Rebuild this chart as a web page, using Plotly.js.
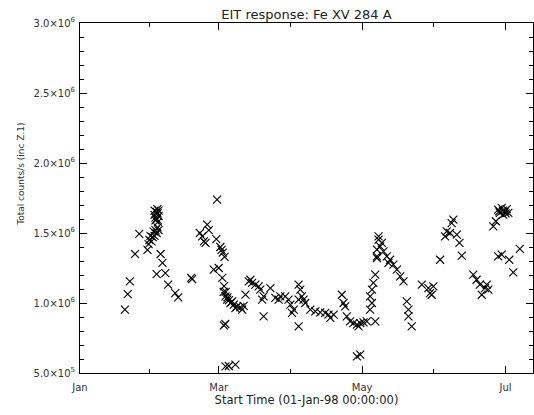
<!DOCTYPE html>
<html>
<head>
<meta charset="utf-8">
<script src="https://cdn.plot.ly/plotly-3.0.1.min.js"></script>
<style>html,body{margin:0;padding:0;background:#fff;}#chart{width:534px;height:415px;}</style>
</head>
<body>
<div id="chart"></div>
<script>
// Day of 1998 (0 = 01-Jan-98 00:00) and total counts/s
const days = [
19.1,20.3,21.2,23.4,25.2,28.7,29.2,29.6,30.0,30.4,30.9,31.3,31.7,32.1,32.6,33.0,33.4,
31.7,31.7,32.1,32.6,32.6,33.0,33.4,33.4,32.1,32.9,33.2,34.3,35.1,32.6,36.3,37.5,40.5,41.8,47.7,47.3,
51.0,52.0,52.7,53.4,54.1,54.8,58.3,58.0,59.7,60.2,60.7,61.5,56.9,59.0,60.5,61.3,62.0,
62.7,63.4,64.0,61.2,61.8,61.9,63.3,66.1,61.1,61.9,62.6,64.7,65.4,66.1,66.8,68.2,69.0,
69.6,70.4,71.8,72.5,73.2,74.6,76.0,76.7,77.5,78.1,81.0,78.1,83.1,84.5,85.2,87.3,88.7,
89.5,90.2,90.9,93.0,93.7,94.4,93.0,95.1,93.0,95.8,98.0,100.1,102.2,104.3,105.7,106.5,
107.9,111.4,112.1,112.8,113.5,114.9,116.3,117.8,118.5,119.2,120.6,122.0,117.8,119.2,
123.4,124.2,123.4,124.2,124.8,125.6,125.6,126.3,126.3,127.0,127.0,127.7,128.4,129.1,
130.5,126.3,131.2,131.9,133.3,134.8,136.2,137.6,139.0,139.7,139.7,141.1,145.4,148.2,
148.9,149.6,150.3,153.2,155.3,156.0,157.4,158.1,158.8,160.3,161.4,162.4,167.3,168.7,
170.1,170.9,172.3,173.0,173.7,175.8,176.9,177.9,178.6,179.4,180.0,180.8,181.5,182.2,
178.3,179.9,181.0,177.9,179.4,182.6,184.3,187.1
];
const counts = [
0.952e6,1.064e6,1.154e6,1.350e6,1.493e6,1.38e6,1.42e6,1.45e6,1.48e6,1.44e6,1.47e6,1.51e6,1.48e6,1.52e6,1.50e6,1.54e6,1.52e6,
1.66e6,1.63e6,1.61e6,1.65e6,1.60e6,1.64e6,1.62e6,1.66e6,1.59e6,1.67e6,1.58e6,1.35e6,1.286e6,1.207e6,1.214e6,1.131e6,1.07e6,1.04e6,1.171e6,1.18e6,
1.50e6,1.476e6,1.44e6,1.43e6,1.56e6,1.52e6,1.738e6,1.457e6,1.40e6,1.38e6,1.36e6,1.33e6,1.238e6,1.25e6,1.18e6,1.12e6,1.08e6,
1.04e6,1.02e6,1.00e6,0.84e6,0.85e6,0.547e6,0.55e6,0.56e6,1.08e6,1.047e6,1.024e6,1.011e6,0.988e6,0.964e6,0.976e6,0.971e6,0.952e6,
0.98e6,1.06e6,1.154e6,1.166e6,1.143e6,1.131e6,1.119e6,1.095e6,1.024e6,1.047e6,1.107e6,0.904e6,1.036e6,1.024e6,1.047e6,1.047e6,1.024e6,
0.988e6,0.929e6,0.952e6,1.131e6,1.095e6,1.047e6,1.024e6,1.024e6,0.833e6,1.0e6,0.952e6,0.94e6,0.933e6,0.929e6,0.917e6,0.893e6,
0.917e6,1.059e6,1.0e6,0.976e6,0.904e6,0.869e6,0.857e6,0.845e6,0.833e6,0.857e6,0.861e6,0.869e6,0.619e6,0.631e6,
0.952e6,1.0e6,1.047e6,1.095e6,1.143e6,1.202e6,0.869e6,1.321e6,1.381e6,1.476e6,1.452e6,1.405e6,1.429e6,1.369e6,
1.333e6,1.333e6,1.286e6,1.309e6,1.274e6,1.238e6,1.19e6,1.155e6,1.011e6,0.952e6,0.904e6,0.833e6,1.131e6,1.107e6,
1.071e6,1.059e6,1.119e6,1.309e6,1.476e6,1.512e6,1.50e6,1.571e6,1.595e6,1.488e6,1.429e6,1.338e6,1.202e6,1.166e6,
1.131e6,1.059e6,1.107e6,1.131e6,1.095e6,1.548e6,1.584e6,1.667e6,1.643e6,1.679e6,1.631e6,1.655e6,1.671e6,1.643e6,
1.655e6,1.66e6,1.64e6,1.333e6,1.345e6,1.309e6,1.219e6,1.386e6
];
const xTickVals = [0, 59, 120, 181];
const xTickText = ["Jan", "Mar", "May", "Jul"];
const xMinorVals = [29.5, 89.5, 150.5];
const yTickVals = [5e5, 1.0e6, 1.5e6, 2.0e6, 2.5e6, 3.0e6];
const yTickText = ["5.0\u00d710<sup>5</sup>", "1.0\u00d710<sup>6</sup>", "1.5\u00d710<sup>6</sup>",
                   "2.0\u00d710<sup>6</sup>", "2.5\u00d710<sup>6</sup>", "3.0\u00d710<sup>6</sup>"];

const fontFam = "DejaVu Sans, sans-serif";
const trace = {
  x: days, y: counts, type: "scatter", mode: "markers",
  marker: {symbol: "x-thin-open", size: 8, color: "#000", line: {color: "#000", width: 1.1}},
  hoverinfo: "none"
};
const layout = {
  width: 534, height: 415,
  margin: {l: 80, r: 1, t: 23, b: 42},
  paper_bgcolor: "#fff", plot_bgcolor: "#fff",
  showlegend: false,
  font: {family: fontFam, size: 10, color: "#333"},
  title: {text: "EIT response: Fe XV 284 A", font: {family: fontFam, size: 13, color: "#222"},
          x: 0.5, xref: "paper", xanchor: "center", y: 1 - 14/415, yref: "container", yanchor: "middle"},
  xaxis: {
    range: [0, 192.7], showgrid: false, zeroline: false,
    showline: true, linecolor: "#000", linewidth: 1, mirror: "ticks",
    tickmode: "array", tickvals: xTickVals, ticktext: xTickText,
    ticks: "inside", ticklen: 7, tickcolor: "#000", tickwidth: 1,
    ticklabelstandoff: 5,
    tickfont: {family: fontFam, size: 10, color: "#333"},
    minor: {tickmode: "array", tickvals: xMinorVals, ticks: "inside", ticklen: 4, tickcolor: "#000"},
    title: {text: "Start Time (01-Jan-98 00:00:00)", font: {family: fontFam, size: 11.5, color: "#222"}, standoff: 3}
  },
  yaxis: {
    range: [5e5, 3e6], showgrid: false, zeroline: false,
    showline: true, linecolor: "#000", linewidth: 1, mirror: "ticks",
    tickmode: "array", tickvals: yTickVals, ticktext: yTickText,
    ticks: "inside", ticklen: 7, tickcolor: "#000", tickwidth: 1,
    ticklabelstandoff: 2,
    tickfont: {family: fontFam, size: 10, color: "#333"},
    minor: {tickmode: "linear", tick0: 0, dtick: 1e5, ticks: "inside", ticklen: 4, tickcolor: "#000"}
  },
  annotations: [{
    text: "Total counts/s (inc Z.1)", textangle: -90,
    xref: "paper", yref: "paper", x: -0.13, y: (373.3 - 175) / 350,
    xanchor: "center", yanchor: "middle", showarrow: false,
    font: {family: fontFam, size: 9, color: "#333"}
  }]
};
Plotly.newPlot("chart", [trace], layout, {staticPlot: true, displayModeBar: false});
</script>
</body>
</html>
